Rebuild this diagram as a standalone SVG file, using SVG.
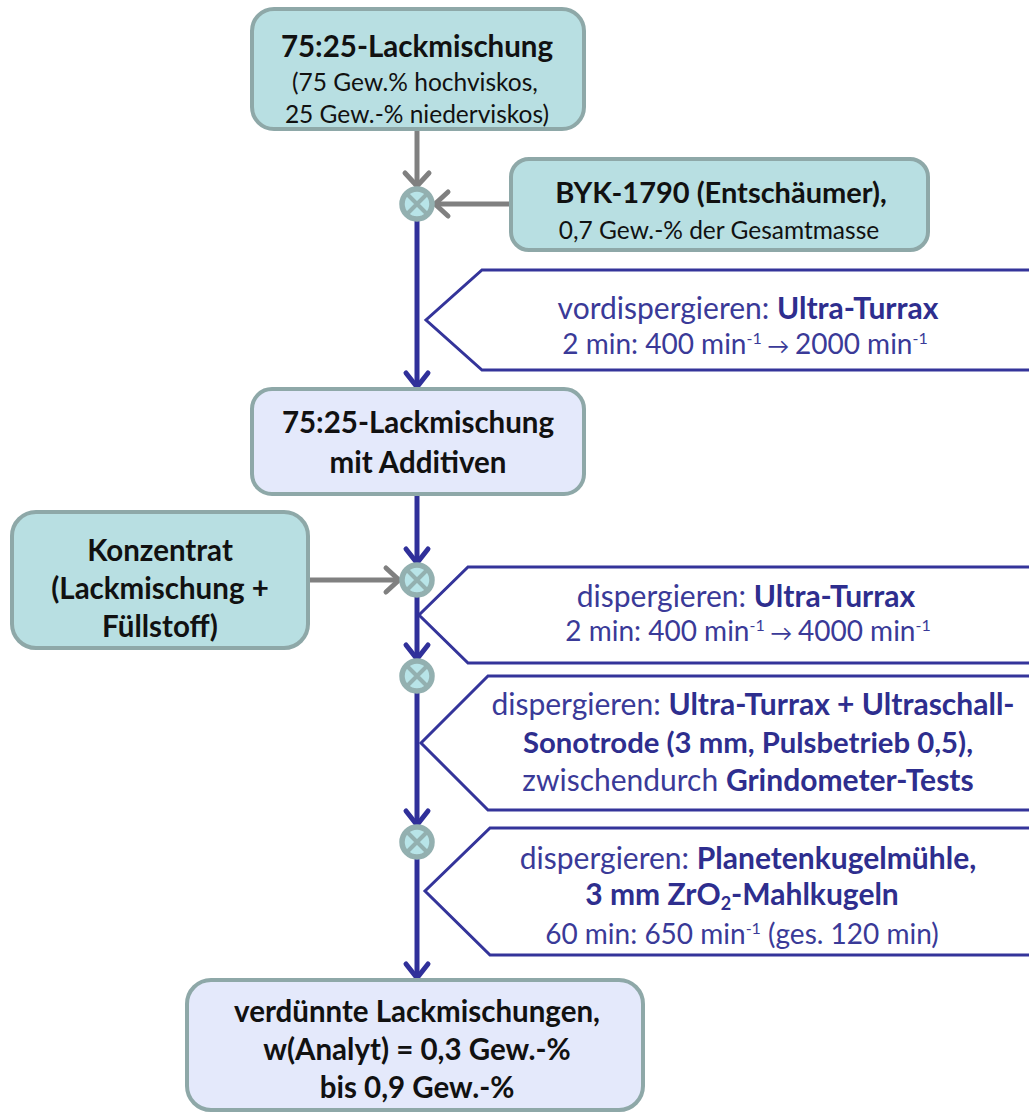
<svg xmlns="http://www.w3.org/2000/svg" width="1029" height="1112" viewBox="0 0 1029 1112">
  <style>
    .t { font-family: Lato, "Open Sans", "Liberation Sans", sans-serif; text-anchor: middle; }
    .blk { fill: #111111; }
    .b { font-weight: bold; }
    .ttl { font-size: 29.5px; font-weight: bold; }
    .txt { font-size: 24.5px; }
    .step { fill: #3a3a98; font-size: 30px; }
    .step.rate { font-size: 28px; }
    .sup { font-size: 16px; }
    .arr { font-size: 22px; }
    .stepb { fill: #2e2e8e; font-weight: bold; }
    .node-teal { fill: #b8dfe2; stroke: #8ea8a8; stroke-width: 4; }
    .node-lav { fill: #e4e9fb; stroke: #8ea8a8; stroke-width: 4; }
    .gray { stroke: #808080; stroke-width: 5; fill: none; }
    .blue { stroke: #30309a; stroke-width: 5; fill: none; }
    .panel { fill: #ffffff; stroke: #34349a; stroke-width: 3; }
    .mix-ring { fill: #b8e4e8; stroke: #93b0b0; stroke-width: 5.5; }
    .mix-x { stroke: #93b0b0; stroke-width: 4; }
  </style>
  <defs>
    <marker id="ah-gray" viewBox="-20 -14 24 28" refX="0" refY="0" markerWidth="24" markerHeight="28" markerUnits="userSpaceOnUse" orient="auto" overflow="visible">
      <path d="M-13,-12 L0,0 L-13,12" fill="none" stroke="#808080" stroke-width="5" stroke-linecap="round"/>
    </marker>
    <marker id="ah-blue" viewBox="-20 -14 24 28" refX="0" refY="0" markerWidth="24" markerHeight="28" markerUnits="userSpaceOnUse" orient="auto" overflow="visible">
      <path d="M-14,-11 L0,0 L-14,11" fill="none" stroke="#30309a" stroke-width="5" stroke-linecap="round"/>
    </marker>
    <g id="mix">
      <circle r="15" class="mix-ring"/>
      <path d="M-9.5,-9.5 L9.5,9.5 M9.5,-9.5 L-9.5,9.5" class="mix-x"/>
    </g>
  </defs>

  <!-- process step panels (arrow-shaped callouts to the right of the flow line) -->
  <g id="panel-vordispergieren">
    <path class="panel" d="M1035,270 H482 L426,320 L482,370 H1035"/>
    <text class="t step" x="748" y="319">vordispergieren: <tspan class="stepb">Ultra-Turrax</tspan></text>
    <text class="t step rate" x="745" y="354">2 min: 400 min<tspan class="sup" dy="-10">-1</tspan><tspan class="arr" dy="10"> → </tspan>2000 min<tspan class="sup" dy="-10">-1</tspan></text>
  </g>
  <g id="panel-dispergieren-1">
    <path class="panel" d="M1035,567 H468 L419,615 L468,663 H1035"/>
    <text class="t step" x="746" y="607">dispergieren: <tspan class="stepb">Ultra-Turrax</tspan></text>
    <text class="t step rate" x="748" y="641">2 min: 400 min<tspan class="sup" dy="-10">-1</tspan><tspan class="arr" dy="10"> → </tspan>4000 min<tspan class="sup" dy="-10">-1</tspan></text>
  </g>
  <g id="panel-dispergieren-2">
    <path class="panel" d="M1035,676 H488 L421,743 L488,810 H1035"/>
    <text class="t step" x="753" y="715">dispergieren: <tspan class="stepb">Ultra-Turrax + Ultraschall-</tspan></text>
    <text class="t step stepb" x="748" y="753" style="font-size:29.3px">Sonotrode (3 mm, Pulsbetrieb 0,5),</text>
    <text class="t step" x="748" y="791">zwischendurch <tspan class="stepb">Grindometer-Tests</tspan></text>
  </g>
  <g id="panel-dispergieren-3">
    <path class="panel" d="M1035,828 H490 L425,891 L490,955 H1035"/>
    <text class="t step" x="748" y="869">dispergieren: <tspan class="stepb">Planetenkugelmühle,</tspan></text>
    <text class="t step stepb" x="742" y="905">3 mm ZrO<tspan style="font-size:18px" dy="5">2</tspan><tspan dy="-5">-Mahlkugeln</tspan></text>
    <text class="t step rate" x="742" y="944">60 min: 650 min<tspan class="sup" dy="-10">-1</tspan><tspan dy="10">  (ges. 120 min)</tspan></text>
  </g>

  <!-- connectors -->
  <g id="connectors">
    <line class="gray" x1="417" y1="130" x2="417" y2="186" marker-end="url(#ah-gray)"/>
    <line class="gray" x1="511" y1="204" x2="435" y2="204" marker-end="url(#ah-gray)"/>
    <line class="gray" x1="308" y1="580" x2="399" y2="580" marker-end="url(#ah-gray)"/>
    <line class="blue" x1="417" y1="220" x2="417" y2="387" marker-end="url(#ah-blue)"/>
    <line class="blue" x1="417" y1="495" x2="417" y2="563" marker-end="url(#ah-blue)"/>
    <line class="blue" x1="417" y1="596" x2="417" y2="659" marker-end="url(#ah-blue)"/>
    <line class="blue" x1="417" y1="692" x2="417" y2="825" marker-end="url(#ah-blue)"/>
    <line class="blue" x1="417" y1="858" x2="417" y2="978" marker-end="url(#ah-blue)"/>
  </g>

  <!-- mixing junctions -->
  <g id="mix-1"><use href="#mix" x="417" y="204"/></g>
  <g id="mix-2"><use href="#mix" x="417" y="580"/></g>
  <g id="mix-3"><use href="#mix" x="417" y="676"/></g>
  <g id="mix-4"><use href="#mix" x="417" y="842"/></g>

  <!-- material nodes -->
  <g id="node-lackmischung">
    <rect class="node-teal" x="252" y="9" width="332" height="120" rx="22"/>
    <text class="t blk ttl" x="417" y="57">75:25-Lackmischung</text>
    <text class="t blk txt" x="415" y="91">(75 Gew.% hochviskos,</text>
    <text class="t blk txt" x="417" y="123">25 Gew.-% niederviskos)</text>
  </g>
  <g id="node-byk">
    <rect class="node-teal" x="511" y="159" width="417" height="91" rx="18"/>
    <text class="t blk b" x="721" y="203" style="font-size:29px">BYK-1790 (Entschäumer),</text>
    <text class="t blk txt" x="719" y="239">0,7 Gew.-% der Gesamtmasse</text>
  </g>
  <g id="node-additive">
    <rect class="node-lav" x="252" y="389" width="332" height="105" rx="20"/>
    <text class="t blk ttl" x="418" y="433">75:25-Lackmischung</text>
    <text class="t blk ttl" x="418" y="473">mit Additiven</text>
  </g>
  <g id="node-konzentrat">
    <rect class="node-teal" x="12" y="512" width="296" height="136" rx="24"/>
    <text class="t blk ttl" x="160" y="561">Konzentrat</text>
    <text class="t blk ttl" x="160" y="599">(Lackmischung +</text>
    <text class="t blk ttl" x="160" y="637">Füllstoff)</text>
  </g>
  <g id="node-verduennt">
    <rect class="node-lav" x="187" y="980" width="456" height="130" rx="24"/>
    <text class="t blk ttl" x="417" y="1022">verdünnte Lackmischungen,</text>
    <text class="t blk ttl" x="417" y="1060">w(Analyt) = 0,3 Gew.-%</text>
    <text class="t blk ttl" x="417" y="1098">bis 0,9 Gew.-%</text>
  </g>
</svg>
